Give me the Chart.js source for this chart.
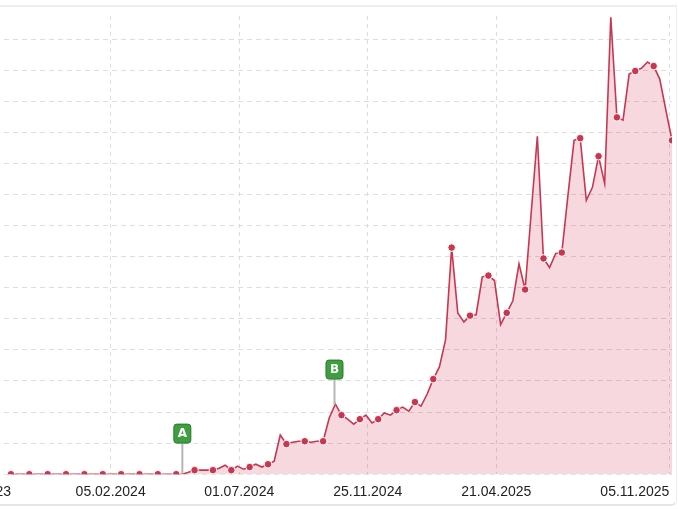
<!DOCTYPE html>
<html>
<head>
<meta charset="utf-8">
<script src="https://cdn.jsdelivr.net/npm/chart.js@4"></script>
<style>
  html, body { margin: 0; padding: 0; background: #fff; overflow: hidden; }
  #card { position: absolute; left: -10px; top: 5px; width: 686px; height: 497px;
          border-top: 2px solid #eee; border-bottom: 2px solid #e6e6e6; border-right: 1px solid #eee; border-radius: 0 0 6px 0; }
  #wrap { position: absolute; left: -69px; top: 0; width: 756px; height: 517px; }
</style>
</head>
<body>
<div id="card"></div>
<div id="wrap"><canvas id="myChart"></canvas></div>
<script>
// weekly values, 7 days apart, day 0 = 14.10.2023
const values = [
  0,0,0,0,0,0,0,0,0,0, 0,0,0,0,0,0,0,0,0,0, 0,0,0,0,0,0,0,0,0,0.06,
  0.13,0.13,0.13,0.13,0.19,0.29,0.13,0.26,0.16,0.23, 0.32,0.23,0.32,0.42,1.26,0.97,1.03,1.06,1.06,1.03,
  1.06,1.06,1.81,2.26,1.90,1.77,1.61,1.77,1.90,1.65, 1.77,1.97,1.90,2.06,2.16,2.03,2.32,2.19,2.58,3.06,
  3.45,4.32,7.29,5.19,4.90,5.10,5.13,6.35,6.39,6.23, 4.81,5.19,5.58,6.77,5.94,8.42,10.87,6.94,6.65,7.10,
  7.13,8.97,10.74,10.81,8.81,9.23,10.23,9.35,14.70,11.48, 11.39,12.87,12.97,13.06,13.26,13.13,12.71,11.71,10.74
];
const tickDays = [-80, 114, 261, 408, 555, 753];
const tickLabels = ['26.07.2023', '05.02.2024', '01.07.2024', '25.11.2024', '21.04.2025', '05.11.2025'];
const flags = [
  { label: 'A', day: 196, top: 1.0 },
  { label: 'B', day: 370, top: 3.06 }
];

const points = values.map((v, i) => ({ x: i * 7, y: v }));

const flagPlugin = {
  id: 'flags',
  afterDatasetsDraw(chart) {
    const { ctx, scales } = chart;
    flags.forEach(f => {
      const x = scales.x.getPixelForValue(f.day);
      const i = Math.floor(f.day / 7), t = (f.day / 7) - i;
      const v = values[i] + (values[i + 1] - values[i]) * t;
      const yLine = scales.y.getPixelForValue(v);
      const yTop = scales.y.getPixelForValue(f.top);
      ctx.save();
      ctx.strokeStyle = '#b5b5b5';
      ctx.lineWidth = 2;
      ctx.beginPath();
      ctx.moveTo(x, yTop);
      ctx.lineTo(x, yLine - 1);
      ctx.stroke();
      ctx.fillStyle = '#3f9e3f';
      ctx.strokeStyle = '#2b7a2b';
      ctx.lineWidth = 1;
      ctx.beginPath();
      ctx.roundRect(x - 8.5, yTop - 19, 17, 19, 3);
      ctx.fill();
      ctx.stroke();
      ctx.fillStyle = '#fff';
      ctx.font = 'bold 12px "DejaVu Sans"';
      ctx.textAlign = 'center';
      ctx.textBaseline = 'middle';
      ctx.fillText(f.label, x, yTop - 9);
      ctx.restore();
    });
  }
};

const ctx = document.getElementById('myChart').getContext('2d');
window.myChart = new Chart(ctx, {
  type: 'line',
  data: {
    datasets: [{
      data: points,
      borderColor: '#c8374f',
      backgroundColor: 'rgba(214, 60, 90, 0.2)',
      borderWidth: 1.6,
      fill: true,
      tension: 0,
      pointRadius: c => (c.dataIndex % 3 === 0 ? 3.8 : 0),
      pointBackgroundColor: '#c8374f',
      pointBorderColor: '#fff',
      pointBorderWidth: 1,
      pointHoverRadius: 0
    }]
  },
  options: {
    responsive: true,
    maintainAspectRatio: false,
    animation: false,
    layout: { padding: { top: 16, right: 15, left: 0, bottom: 6 } },
    plugins: { legend: { display: false }, tooltip: { enabled: false } },
    scales: {
      x: {
        type: 'linear',
        min: -80,
        max: 756,
        afterBuildTicks: axis => { axis.ticks = tickDays.map(v => ({ value: v })); },
        ticks: {
          autoSkip: false,
          maxRotation: 0,
          align: 'inner',
          color: '#222',
          font: { size: 14, family: '"Liberation Sans", Arial' },
          padding: 10,
          callback: (v) => tickLabels[tickDays.indexOf(v)]
        },
        grid: { color: '#dddddd', drawTicks: false, tickLength: 0 },
        border: { display: false, dash: [4, 4] }
      },
      y: {
        min: 0,
        max: 14.74,
        afterBuildTicks: axis => {
          axis.ticks = [];
          for (let v = 0; v <= 14; v++) axis.ticks.push({ value: v });
        },
        ticks: { display: false },
        grid: { color: c => (c.tick && c.tick.value === 0 ? '#e4e4e4' : '#dddddd'), drawTicks: false },
        border: { display: false, dash: [5, 4] }
      }
    }
  },
  plugins: [flagPlugin]
});
</script>
</body>
</html>
